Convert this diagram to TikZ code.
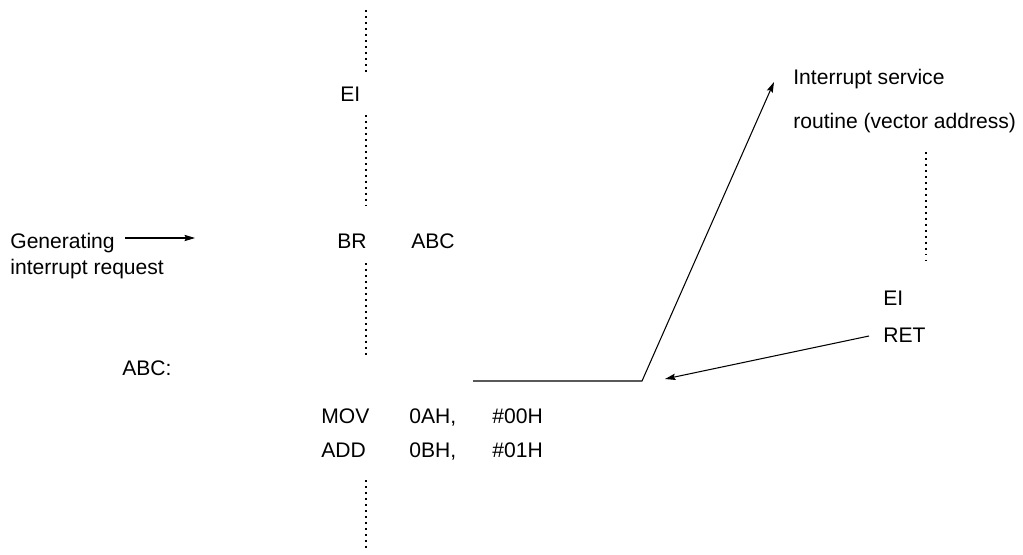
\documentclass[tikz,border=0pt]{standalone}
\usepackage{fontspec}
\setmainfont{Liberation Sans}
\usetikzlibrary{arrows.meta}

\begin{document}
\begin{tikzpicture}[
        x=0.02cm, y=-0.02cm,
        codetext/.style={
            anchor=base west,
            inner sep=0pt,
            font=\fontsize{12}{14}\selectfont
        },
        dotcol/.style={
            line width=1.1pt,
            dash pattern=on 1.1pt off 2.3pt
        },
        flowarrow/.style={
            -{Stealth[length=6pt,width=3.6pt,inset=1pt]},
            line width=0.6pt
        }
    ]

    % Page frame
    \useasboundingbox (0,0) rectangle (1023,554);

    % ---------------------------------------------------------
    % Main program column
    % ---------------------------------------------------------
    \foreach \ya/\yb in {10/75, 115/205, 263/358, 480/550} {
        \draw[dotcol] (366,\ya) -- (366,\yb);
    }

    \node[codetext] (eimain) at (340,101) {EI};
    \node[codetext] (br)     at (337,248) {BR};
    \node[codetext] (brarg)  at (411,248) {ABC};
    \node[codetext] (label)  at (122,375) {ABC:};

    \node[codetext] (mov)    at (321,423) {MOV};
    \node[codetext] (movdst) at (409,423) {0AH,};
    \node[codetext] (movsrc) at (492,423) {\#00H};
    \node[codetext] (add)    at (321,457) {ADD};
    \node[codetext] (adddst) at (409,457) {0BH,};
    \node[codetext] (addsrc) at (492,457) {\#01H};

    % Interrupt request
    \node[codetext] (gen) at (10,248) {Generating};
    \node[codetext] (req) at (10,274) {interrupt request};
    \coordinate (genstart) at (125,238);
    \coordinate (gentip)   at (195,238);
    \draw[flowarrow] (genstart) -- (gentip);

    % ---------------------------------------------------------
    % Interrupt service routine
    % ---------------------------------------------------------
    \node[codetext] (isr1)  at (793,85)  {Interrupt service};
    \node[codetext] (isr2)  at (793,128) {routine (vector address)};
    \draw[dotcol] (926,152) -- (926,265);
    \node[codetext] (eiisr) at (883,305) {EI};
    \node[codetext] (ret)   at (883,342) {RET};

    % ---------------------------------------------------------
    % Jump to the routine and return
    % ---------------------------------------------------------
    \coordinate (jmpstart) at (473,381);
    \coordinate (knee)     at (642,381);
    \coordinate (isrtip)   at (774,82);
    \coordinate (retstart) at (869,336);
    \coordinate (rettip)   at (665,379);

    \draw[flowarrow] (jmpstart) -- (knee) -- (isrtip);
    \draw[flowarrow] (retstart) -- (rettip);

\end{tikzpicture}
\end{document}
